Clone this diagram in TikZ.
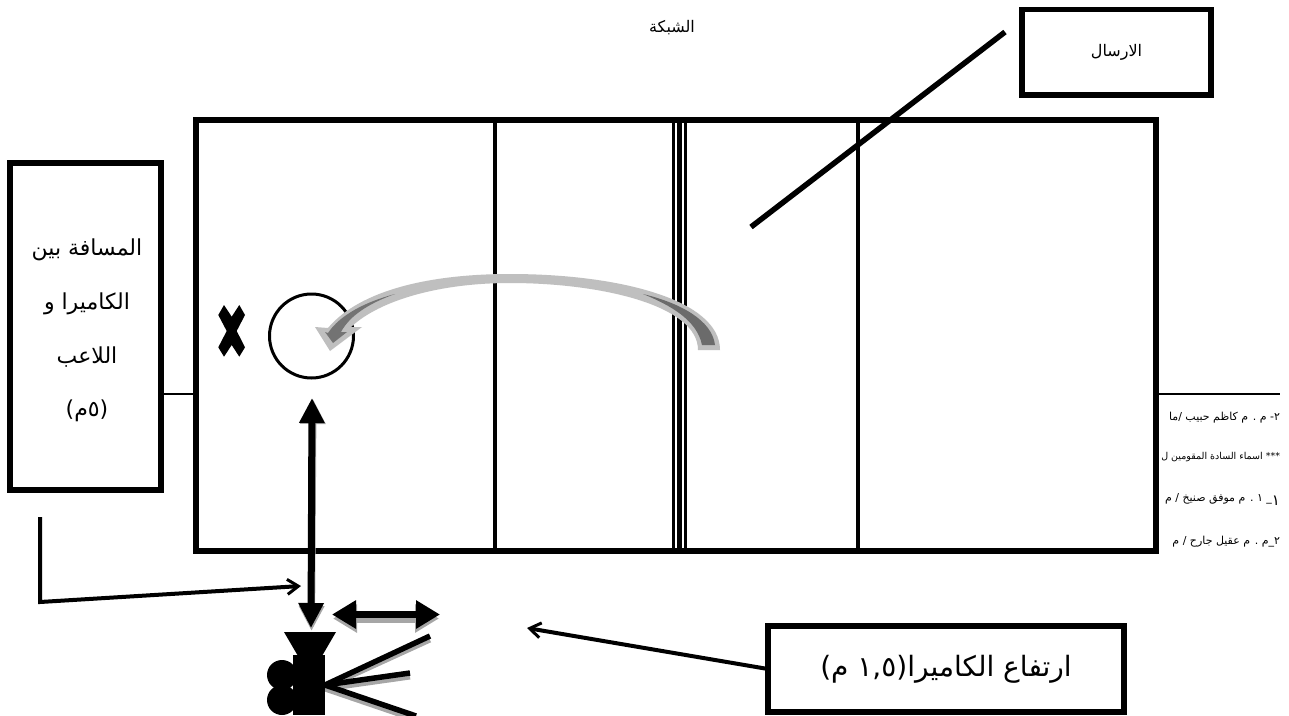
\documentclass[tikz,border=0pt]{standalone}
\usepackage{fontspec}
\usetikzlibrary{arrows.meta}
\TeXXeTstate=1
\newfontfamily\arabicfont[Script=Arabic]{DejaVu Sans}
\newcommand{\ar}[1]{\arabicfont\beginR #1\endR}
\tikzset{
  every node/.style={outer sep=0pt},
  framebox/.style={draw=black,line width=5.5pt,fill=white,anchor=north west,inner sep=0pt,align=center},
  courtline/.style={draw=black,line width=3.5pt},
  bar/.style={draw=black,line width=5.5pt},
  shadowbar/.style={draw=black!35,line width=5pt},
  sidetext/.style={anchor=east,inner sep=0pt,font=\fontsize{11}{13}\selectfont},
  distline/.style={inner sep=0pt,font=\fontsize{22}{26}\selectfont},
  thinarrow/.style={line width=4pt,-{Straight Barb[length=11pt,width=15pt,line width=3pt]}},
  vdouble/.style={{Triangle[length=25pt,width=24pt]}-{Triangle[length=25pt,width=24pt]}},
  hdouble/.style={{Triangle[length=24pt,width=27pt]}-{Triangle[length=24pt,width=27pt]}},
}
\begin{document}
\begin{tikzpicture}[x=1pt,y=-1pt]
\useasboundingbox (0,0) rectangle (1289,715);
% margin texts, covered by the court
\node[sidetext] (t1) at (1280,418) {\ar{٢- م . م كاظم حبيب /ما}};
\node[sidetext,font=\fontsize{9.5}{12}\selectfont] (t2) at (1280,457) {\ar{*** اسماء السادة المقومين ل}};
\node[sidetext] (t3) at (1280,499) {\ar{\raisebox{-4pt}{\fontsize{15}{15}\selectfont ١}\_ ١ . م موفق صنيخ / م}};
\node[sidetext] (t4) at (1280,542) {\ar{٢\_م . م عقيل جارح / م}};
% the net's thin line
\coordinate (nl) at (8,394);
\coordinate (nr) at (1280,394);
\draw[line width=1.3pt] (nl) -- (nr);
% court
\node[draw=black,line width=6pt,fill=white,minimum width=960pt,minimum height=431pt,anchor=north west,inner sep=0pt] (court) at (196,120) {};
\draw[courtline] (495,120) -- (495,551);
\draw[courtline] (858,120) -- (858,551);
\draw[line width=2.4pt] (673.5,120) -- (673.5,551);
\draw[line width=5pt] (679.5,120) -- (679.5,551);
\draw[line width=2.4pt] (685.5,120) -- (685.5,551);
% player circle and cross
\node[draw=black,line width=3pt,circle,minimum size=84pt,inner sep=0pt,fill=none] (ball) at (311.5,336) {};
\fill (224,305) -- (231.7,316.7) -- (239.3,305) -- (245,315) -- (236.7,331) -- (245,347.3) -- (239.3,356.7) -- (231.7,345) -- (224,356.7) -- (218.3,347.3) -- (226.7,331) -- (218.3,315) -- cycle;
% curved arrow
\fill[black!25] (720,350) .. controls (720,300) and (620,274) .. (510,274) .. controls (430,274) and (360,290) .. (328,328) -- (315,327) -- (330,351) -- (362,327) -- (351,327) .. controls (380,300) and (440,283) .. (510,283) .. controls (600,283) and (698,305) .. (698,350) -- cycle;
\fill[black!58] (715,345) -- (702,345) .. controls (697,320) and (670,305) .. (643,294) .. controls (680,303) and (712,320) .. (715,345) -- cycle;
\fill[black!55] (325,332) -- (333,343) -- (347,332) -- (341,332) .. controls (350,315) and (370,303) .. (395,294) .. controls (365,302) and (340,315) .. (328,333) -- cycle;
% labels
\node[inner sep=0pt,font=\fontsize{16}{18}\selectfont] (net) at (672,28) {\ar{الشبكة}};
\node[framebox,minimum width=189pt,minimum height=85.5pt] (send) at (1022,9.7) {\raisebox{-2pt}{\fontsize{16}{18}\selectfont\ar{الارسال}}};
\coordinate (sa) at (1005,32);
\coordinate (sb) at (751,227);
\draw[bar] (sa) -- (sb);
\node[framebox,minimum width=151pt,minimum height=327pt] (dist) at (10,163) {};
\node[distline] (d1) at (87,250) {\ar{المسافة بين}};
\node[distline] (d2) at (87,304) {\ar{الكاميرا و}};
\node[distline] (d3) at (87,357) {\ar{اللاعب}};
\node[distline] (d4) at (87,411) {\ar{(٥م)}};
\node[framebox,minimum width=356pt,minimum height=86pt] (height) at (768,626) {\raisebox{-9pt}{\fontsize{28}{32}\selectfont\ar{ارتفاع الكاميرا(١,٥ م)}}};
% connectors
\coordinate (p0) at (40,517);
\coordinate (p1) at (40,602);
\coordinate (p2) at (301,586);
\draw[thinarrow] (p0) -- (p1) -- (p2);
\coordinate (h1) at (527,628);
\draw[thinarrow] (height.west) -- (h1);
% vertical double arrow
\coordinate (va) at (312,398);
\coordinate (vb) at (311,628);
\draw[line width=7pt,black!35,vdouble] (313,399) -- (311.5,631);
\draw[line width=7pt,vdouble] (va) -- (vb);
% horizontal double arrow
\coordinate (ha) at (332,614.5);
\coordinate (hb) at (440,614.5);
\draw[line width=8pt,black!35,hdouble] (333,618.5) -- (439,618.5);
\draw[line width=7pt,hdouble] (ha) -- (hb);
% camera
\coordinate (c0) at (325,685);
\coordinate (c1) at (430,636);
\coordinate (c2) at (410,673);
\coordinate (c3) at (416,716);
\begin{scope}
\clip (0,0) rectangle (1289,715);
\draw[shadowbar] (325,688) -- (430,640);
\draw[shadowbar] (325,689) -- (410,677);
\draw[shadowbar] (325,689) -- (416,720);
\draw[bar] (c0) -- (c1);
\draw[bar] (c0) -- (c2);
\draw[bar] (c0) -- (c3);
\fill (284,632) -- (336,632) -- (322,656) -- (298,656) -- cycle;
\fill (293,655) rectangle (325,715);
\fill (282,675) circle (15pt);
\fill (282,700) circle (15pt);
\end{scope}
\end{tikzpicture}
\end{document}
